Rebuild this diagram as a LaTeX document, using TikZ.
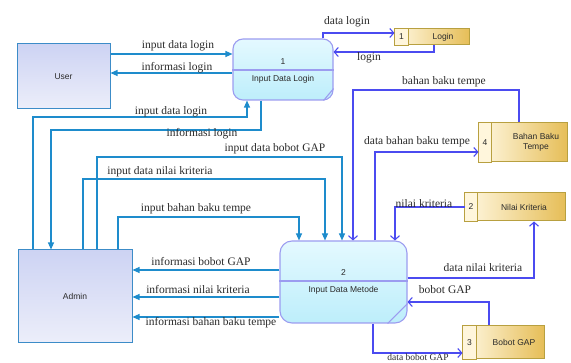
\documentclass[tikz,border=0pt]{standalone}
\usepackage{fontspec}
\setmainfont{Liberation Serif}
\newfontfamily\nodefont{Liberation Sans}
\usetikzlibrary{arrows.meta}
\definecolor{lcol}{HTML}{1E8CCC}
\definecolor{scol}{HTML}{4B4BF0}
\definecolor{extborder}{HTML}{3C8CC8}
\definecolor{extTop}{HTML}{CDD3F3}
\definecolor{extBot}{HTML}{ECEEFA}
\definecolor{procborder}{HTML}{9C9CF0}
\definecolor{procTop}{HTML}{E4F9FF}
\definecolor{procBot}{HTML}{BDEEFB}
\definecolor{stborder}{HTML}{B8A040}
\definecolor{stLeft}{HTML}{FFF8E2}
\definecolor{stRight}{HTML}{E6BE58}
\definecolor{stNum}{HTML}{FFF6DC}
\definecolor{txt}{HTML}{2A2A2A}
\begin{document}
\begin{tikzpicture}[x=1pt,y=-1pt,
  ext/.style={draw=extborder, line width=1pt, top color=extTop, bottom color=extBot, inner sep=0pt,
    font=\nodefont\fontsize{8.5}{10}\selectfont, text=txt},
  proc/.style={draw=procborder, line width=1.1pt, top color=procTop, bottom color=procBot, inner sep=0pt, rounded corners=10pt},
  procline/.style={draw=procborder, line width=1.1pt},
  ptext/.style={font=\nodefont\fontsize{8.5}{10}\selectfont, text=txt, inner sep=0pt},
  store/.style={draw=stborder, line width=1pt, left color=stLeft, right color=stRight, inner sep=0pt},
  stnum/.style={draw=stborder, line width=1pt, fill=stNum},
  stext/.style={font=\nodefont\fontsize{8.5}{10}\selectfont, text=txt, inner sep=0pt, align=center},
  lflow/.style={draw=lcol, line width=1.1pt, -{Triangle[length=7pt,width=6pt]}},
  sflow/.style={draw=scol, line width=1.1pt, -{Straight Barb[length=4pt,width=9pt]}},
  lab/.style={font=\fontsize{11.5}{12}\selectfont, text=txt, inner sep=0pt}
]
\useasboundingbox (0,0) rectangle (571,363);

% external entities
\node[ext, minimum width=93pt, minimum height=65pt] (user) at (63.5,76.5) {User};
\node[ext, minimum width=114pt, minimum height=93pt] (admin) at (75,296.5) {Admin};

% processes
\node[proc, minimum width=100pt, minimum height=61pt] (p1) at (283,69.5) {};
\draw[procline] (p1.west |- 0,70) -- (p1.east |- 0,70);
\draw[procline] ([xshift=-10pt]p1.south east) -- ([yshift=12pt]p1.south east);
\node[ptext] (p1n) at (283,62) {1};
\node[ptext] (p1t) at (283,79) {Input Data Login};

\node[proc, rounded corners=12pt, minimum width=127pt, minimum height=82pt] (p2) at (343.5,282) {};
\draw[procline] (p2.west |- 0,281) -- (p2.east |- 0,281);
\draw[procline] ([xshift=-20pt]p2.south east) -- ([yshift=20pt]p2.south east);
\node[ptext] (p2n) at (343.5,273) {2};
\node[ptext] (p2t) at (343.5,290) {Input Data Metode};

% data stores
\node[store, minimum width=74pt, minimum height=16pt] (s1) at (432,37) {};
\draw[stnum] (s1.north west) rectangle ([xshift=14pt]s1.south west);
\node[stext] (s1n) at ([xshift=7pt]s1.west) {1};
\node[stext] (s1t) at (443,37) {Login};

\node[store, minimum width=88pt, minimum height=39pt] (s4) at (523,142.5) {};
\draw[stnum] (s4.north west) rectangle ([xshift=13pt]s4.south west);
\node[stext] (s4n) at ([xshift=6.5pt]s4.west) {4};
\node[stext] (s4t) at (536,142.5) {Bahan Baku\\Tempe};

\node[store, minimum width=100pt, minimum height=28pt] (s2) at (515,207) {};
\draw[stnum] (s2.north west) rectangle ([xshift=13pt]s2.south west);
\node[stext] (s2n) at ([xshift=6.5pt]s2.west) {2};
\node[stext] (s2t) at (524,207) {Nilai Kriteria};

\node[store, minimum width=81pt, minimum height=33pt] (s3) at (503.5,342.5) {};
\draw[stnum] (s3.north west) rectangle ([xshift=14pt]s3.south west);
\node[stext] (s3n) at ([xshift=7pt]s3.west) {3};
\node[stext] (s3t) at (514,342.5) {Bobot GAP};

% flows to/from external entities
\draw[lflow] (user.east |- 0,54) -- (p1.west |- 0,54);
\draw[lflow] (p1.west |- 0,73) -- (user.east |- 0,73);
\draw[lflow] (admin.north -| 33,0) |- (247,117) -- (p1.south -| 247,0);
\draw[lflow] (p1.south -| 261,0) |- (51,130) -- (admin.north -| 51,0);
\draw[lflow] (admin.north -| 97,0) |- (342,157) -- (p2.north -| 342,0);
\draw[lflow] (admin.north -| 83,0) |- (325,179) -- (p2.north -| 325,0);
\draw[lflow] (admin.north -| 118,0) |- (299,217) -- (p2.north -| 299,0);
\draw[lflow] (p2.west |- 0,270) -- (admin.east |- 0,270);
\draw[lflow] (p2.west |- 0,297) -- (admin.east |- 0,297);
\draw[lflow] (p2.west |- 0,317) -- (admin.east |- 0,317);

% flows to/from data stores
\draw[sflow] (p1.north -| 323,0) |- (s1.west |- 0,33);
\draw[sflow] (s1.south -| 434,0) |- (p1.east |- 0,52);
\draw[sflow] (s4.north -| 519,0) |- (353,90) -- (p2.north -| 353,0);
\draw[sflow] (p2.north -| 375,0) |- (s4.west |- 0,152);
\draw[sflow] (s2.west) -| (p2.north -| 395,0);
\draw[sflow] (p2.east |- 0,278) -| (s2.south -| 534,0);
\draw[sflow] (s3.north -| 489,0) |- (p2.east |- 0,302);
\draw[sflow] (p2.south -| 373,0) |- (s3.west |- 0,353);

% labels
\node[lab] (l1) at (178,46) {input data login};
\node[lab] (l2) at (177,68) {informasi login};
\node[lab] (l3) at (347,22) {data login};
\node[lab] (l4) at (369,58) {login};
\node[lab] (l5) at (171,112) {input data login};
\node[lab] (l6) at (202,134) {informasi login};
\node[lab] (l7) at (275,149) {input data bobot GAP};
\node[lab] (l8) at (160,172) {input data nilai kriteria};
\node[lab] (l9) at (196,209) {input bahan baku tempe};
\node[lab] (l10) at (201,262) {informasi bobot GAP};
\node[lab] (l11) at (198,290) {informasi nilai kriteria};
\node[lab] (l12) at (211,323) {informasi bahan baku tempe};
\node[lab] (l13) at (444,82) {bahan baku tempe};
\node[lab] (l14) at (417,142) {data bahan baku tempe};
\node[lab] (l15) at (424,204) {nilai kriteria};
\node[lab] (l16) at (483,268) {data nilai kriteria};
\node[lab] (l17) at (445,290) {bobot GAP};
\node[lab, font=\fontsize{9.5}{10}\selectfont, anchor=base] (l18) at (418,361) {data bobot GAP};
\end{tikzpicture}
\end{document}
